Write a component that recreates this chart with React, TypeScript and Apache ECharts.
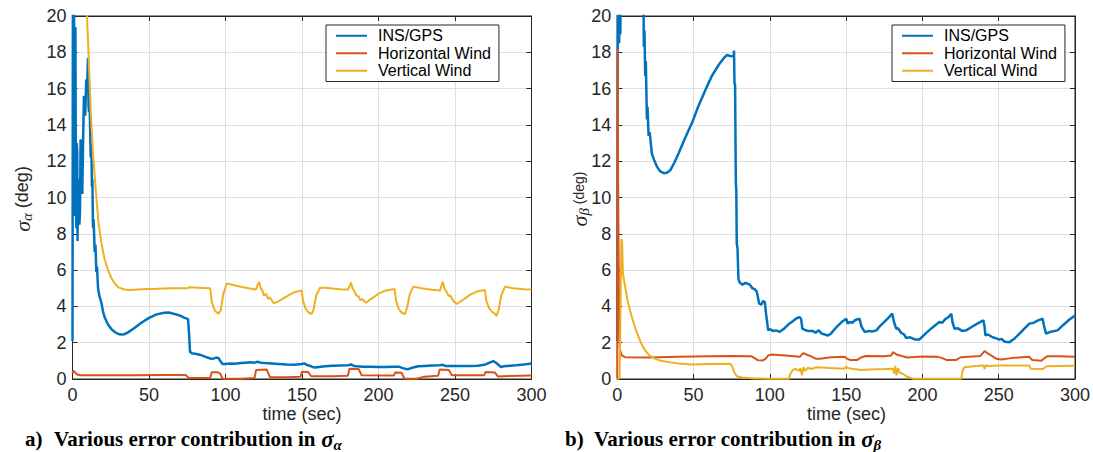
import React, { useEffect, useRef } from "react";
import * as echarts from "echarts";

const seriesNames = ["INS/GPS", "Horizontal Wind", "Vertical Wind"];
const seriesColors = ["#0072BD", "#D95319", "#EDB120"];

// time (sec), sigma_alpha (deg)
const insGpsAlpha = [
  [0, 2.1], [0.3, 24], [0.8, 14], [1.0, 20.5], [1.4, 9], [1.9, 19.4], [2.2, 11], [2.5, 8.3], [2.8, 13], [3.1, 12.5],
  [3.3, 7.6], [3.6, 11], [4.2, 10.8], [4.5, 8.5], [4.9, 9.3], [5.3, 13.2], [5.8, 12.5], [6.1, 10.5], [6.4, 10.2],
  [7.0, 13.5], [7.5, 15.6], [8.3, 14.5], [9.0, 16.5], [9.5, 15.8], [10.1, 17.7], [10.5, 15], [10.8, 14.7], [11.0, 16],
  [11.2, 15.2], [11.9, 12.2], [12.3, 13], [12.7, 10.6], [13.0, 11], [13.4, 8.3], [13.8, 8.8], [14.5, 7.0], [15.0, 7.4],
  [15.6, 5.9], [16.0, 6.2], [16.7, 5.0], [17.5, 4.6], [18.9, 4.2], [20, 3.7], [21, 3.4], [23.2, 3.0], [25.4, 2.75],
  [27.6, 2.59], [30, 2.48], [32, 2.45], [34, 2.47], [36.3, 2.57], [40, 2.78], [45, 3.1], [50, 3.37], [55, 3.56],
  [60, 3.65], [63, 3.66], [66, 3.6], [70, 3.5], [73, 3.38], [75.5, 3.3], [76.2, 2.5], [76.8, 1.5], [78, 1.42],
  [81, 1.38], [84, 1.32], [87, 1.22], [90, 1.13], [92, 1.12], [94, 1.18], [95.5, 1.15], [96.5, 1.0], [98, 0.83],
  [100, 0.83], [103, 0.86], [106, 0.84], [110, 0.88], [113, 0.9], [116, 0.92], [119, 0.9], [121, 0.95], [123, 0.9],
  [126, 0.88], [130, 0.86], [135, 0.82], [140, 0.8], [145, 0.79], [150, 0.82], [151.5, 0.86], [153, 0.78], [156, 0.7],
  [158, 0.63], [160, 0.65], [165, 0.7], [170, 0.73], [175, 0.75], [180, 0.76], [182, 0.8], [184, 0.72], [190, 0.68],
  [195, 0.67], [200, 0.66], [205, 0.66], [210, 0.68], [213, 0.68], [216, 0.6], [219, 0.53], [222, 0.62], [226, 0.7],
  [230, 0.72], [235, 0.74], [240, 0.76], [242, 0.78], [244, 0.71], [250, 0.71], [255, 0.71], [260, 0.72], [265, 0.73],
  [270, 0.8], [273, 0.92], [275, 0.99], [277, 0.88], [280, 0.66], [282, 0.7], [286, 0.73], [290, 0.76], [295, 0.8],
  [300, 0.86],
];
const horizWindAlpha = [
  [0, 0.3], [0.5, 0.46], [1.5, 0.38], [3, 0.25], [5, 0.21], [20, 0.21], [40, 0.21], [60, 0.22], [74, 0.22],
  [76, 0.05], [90, 0.05], [91, 0.37], [95, 0.37], [96.5, 0.3], [98, 0.02], [110, 0.02], [119, 0.05], [120, 0.5],
  [127, 0.52], [129, 0.1], [140, 0.1], [149, 0.12], [150, 0.4], [154, 0.38], [156, 0.15], [170, 0.15], [180, 0.18],
  [181, 0.57], [187, 0.55], [189, 0.2], [210, 0.19], [211, 0.36], [215, 0.35], [217, 0.01], [225, 0.01], [230, 0.13],
  [239, 0.18], [240, 0.53], [246, 0.5], [248, 0.2], [269, 0.2], [270, 0.38], [276, 0.36], [278, 0.14], [285, 0.17],
  [300, 0.19],
];
const vertWindAlpha = [
  [0, 60], [5, 35], [9.5, 20], [11.9, 14.8], [13.5, 12.3], [15.6, 10.0], [17, 8.6], [18.9, 7.47], [21, 6.6],
  [23.2, 6.0], [25.5, 5.55], [27.6, 5.26], [30, 5.05], [34, 4.93], [38, 4.9], [45, 4.95], [55, 4.97], [65, 5.0],
  [75, 5.0], [76, 5.05], [85, 5.02], [90, 5.0], [91, 4.24], [93, 3.78], [95.3, 3.6], [96.9, 3.78], [98.6, 4.7],
  [100.8, 5.26], [105, 5.18], [110, 5.08], [115, 5.0], [120, 4.93], [121, 5.2], [122, 5.35], [123, 5.0], [124, 4.9],
  [125, 4.6], [126.5, 4.7], [128, 4.4], [129, 4.5], [131.5, 4.17], [134, 4.25], [140, 4.55], [145, 4.78],
  [149.8, 4.88], [150.7, 4.3], [152.5, 3.85], [154.5, 3.65], [156.3, 3.58], [157.5, 3.8], [159.3, 4.6], [161.8, 5.03],
  [165, 5.03], [170, 4.98], [175, 4.95], [180.3, 4.93], [181, 5.1], [182, 5.31], [183, 5.0], [184.5, 4.8],
  [185.5, 4.6], [187, 4.55], [188, 4.35], [189.5, 4.4], [191.8, 4.2], [195, 4.4], [200, 4.7], [205, 4.88],
  [210.5, 4.96], [211.5, 4.3], [213.3, 3.85], [215.3, 3.65], [217.3, 3.58], [218.6, 3.9], [220.5, 4.7], [222.8, 5.09],
  [228, 5.0], [235, 4.92], [240.2, 4.87], [241, 5.1], [242, 5.36], [243, 5.0], [244.5, 4.8], [246, 4.55],
  [247, 4.6], [249, 4.3], [251.1, 4.13], [255, 4.35], [260, 4.65], [265, 4.84], [269.6, 4.9], [270.5, 4.3],
  [272.3, 3.9], [274.3, 3.7], [275.8, 3.62], [277.2, 3.47], [278.5, 3.8], [280.2, 4.6], [282.7, 5.09], [288, 5.0],
  [295, 4.95], [300, 4.93],
];

// time (sec), sigma_beta (deg)
const insGpsBeta = [
  [0, 2.1], [0.3, 21], [0.6, 19], [0.9, 22], [1.2, 18.5], [1.6, 21], [2.0, 19], [2.3, 24], [10, 40], [16, 26],
  [17.2, 20.5], [17.4, 18.3], [17.8, 19.2], [18.3, 16.7], [18.7, 17.5], [19.4, 14.3], [19.8, 15], [20.5, 13.4],
  [21.2, 13.6], [22.7, 12.4], [24, 12.1], [26, 11.7], [28, 11.45], [30.4, 11.34], [32.5, 11.36], [34.7, 11.5],
  [37, 11.85], [40.2, 12.44], [44, 13.2], [48.9, 14.1], [53, 15.0], [57.6, 15.9], [62, 16.7], [66.4, 17.3],
  [70, 17.7], [72, 17.85], [74, 17.8], [76.2, 17.78], [76.5, 18.1], [76.8, 16.3], [77.2, 16.2], [77.7, 10.8],
  [78.0, 10.4], [78.3, 7.47], [78.8, 7.2], [79.4, 5.5], [80.3, 5.3], [82, 5.2], [84, 5.3], [86.9, 5.2], [88.5, 5.0],
  [90.1, 4.95], [91.5, 4.8], [93, 4.15], [94.5, 4.1], [95.5, 4.3], [96.7, 4.24], [97.5, 3.6], [98.9, 2.68],
  [100, 2.75], [102, 2.65], [104, 2.68], [106.5, 2.6], [109, 2.75], [112, 3.0], [115.2, 3.2], [117.5, 3.35],
  [119.6, 3.41], [120.5, 3.3], [121.3, 2.77], [123, 2.7], [125, 2.65], [128.3, 2.64], [130, 2.55], [132, 2.68],
  [134, 2.5], [136, 2.45], [138.1, 2.4], [140, 2.5], [143, 2.8], [146, 3.05], [148, 3.2], [150.1, 3.32],
  [151, 3.05], [152.3, 3.14], [154, 3.1], [156, 3.25], [158.8, 3.32], [160, 2.9], [162.1, 2.59], [165, 2.65],
  [167, 2.62], [169.8, 2.68], [172, 2.9], [175, 3.15], [178, 3.4], [180.2, 3.6], [181.5, 3.1], [182.9, 2.77],
  [184, 2.8], [186, 2.55], [188, 2.45], [189.4, 2.26], [192, 2.3], [195, 2.18], [198.1, 2.18], [202, 2.5],
  [206, 2.8], [209, 3.0], [211.2, 3.14], [213, 3.1], [215, 3.3], [217, 3.4], [218.9, 3.6], [219.8, 3.1],
  [221, 2.77], [223, 2.8], [226, 2.65], [228.7, 2.68], [232, 2.85], [236, 3.05], [240, 3.23], [240.7, 2.9],
  [241.3, 2.4], [243, 2.45], [246, 2.3], [248, 2.25], [250.5, 2.17], [252, 2.2], [254, 2.05], [257, 2.03],
  [260, 2.2], [263, 2.45], [266, 2.7], [270.1, 3.05], [273, 3.1], [275, 3.2], [278.8, 3.32], [279.5, 3.0],
  [281, 2.5], [284, 2.6], [288.6, 2.68], [292, 2.95], [296, 3.25], [300, 3.5],
];
const horizWindBeta = [
  [0, 0], [0.15, 18.2], [0.6, 10], [1.2, 3], [1.8, 1.6], [3, 1.3], [5, 1.2], [20, 1.18], [40, 1.22], [60, 1.26],
  [75, 1.27], [88, 1.25], [90, 1.15], [92, 1.04], [95, 1.02], [97, 1.1], [99, 1.3], [101, 1.35], [110, 1.3],
  [119.6, 1.22], [121.8, 1.43], [124, 1.35], [127, 1.25], [130, 1.12], [133, 1.12], [140, 1.2], [149, 1.22],
  [151, 1.1], [153, 1.04], [157, 1.04], [160, 1.2], [163, 1.27], [175, 1.26], [179.5, 1.3], [180.7, 1.48],
  [183, 1.35], [187, 1.25], [190, 1.18], [200, 1.24], [210, 1.22], [213, 1.15], [216, 1.04], [222, 1.04],
  [225, 1.2], [238, 1.27], [240.7, 1.54], [243, 1.4], [246, 1.25], [249, 1.1], [252, 1.07], [258, 1.15],
  [265, 1.2], [270, 1.22], [272, 1.05], [278, 1.0], [280, 1.15], [282, 1.26], [290, 1.25], [300, 1.22],
];
const vertWindBeta = [
  [0, 0], [1.5, 0.05], [2.7, 7.7], [3.1, 7.65], [3.7, 5.8], [5.2, 5.07], [7, 4.2], [9.6, 3.4], [12, 2.75],
  [14, 2.31], [16, 1.9], [18.3, 1.57], [21, 1.3], [24.9, 1.11], [29, 1.0], [33.6, 0.93], [40, 0.86], [48.9, 0.8],
  [60, 0.82], [74, 0.84], [75.3, 0.7], [76.5, 0.4], [78.3, 0.15], [81.6, 0.08], [90, 0.03], [100, 0.02],
  [112.5, 0.02], [113.5, 0.3], [115.2, 0.51], [117, 0.55], [119, 0.45], [120, 0.6], [121, 0.2], [122, 0.65],
  [123, 0.45], [125, 0.62], [127, 0.55], [130.5, 0.65], [140, 0.6], [149, 0.57], [150, 0.7], [151, 0.6],
  [155, 0.55], [160, 0.5], [165, 0.53], [175, 0.55], [180.7, 0.57], [181.5, 0.3], [182.2, 0.72], [183, 0.2],
  [184, 0.6], [185, 0.35], [187.2, 0.29], [190, 0.12], [193.7, 0.02], [210, 0.02], [225.4, 0.02], [226.5, 0.5],
  [227.6, 0.65], [235, 0.72], [240, 0.74], [240.8, 0.55], [241.5, 0.76], [243, 0.72], [250, 0.74], [260, 0.75],
  [270, 0.75], [271, 0.56], [278.8, 0.55], [281.5, 0.7], [290, 0.72], [300, 0.73],
];

const xRange = { min: 0, max: 300, interval: 50 };
const yRange = { min: 0, max: 20, interval: 2 };
const xAxisTitle = "time (sec)";
const captionLabels = ["a)", "b)"];
const captionText = "Various error contribution in ";
const subscripts = ["α", "β"];

const SANS = "'Liberation Sans', Arial, Helvetica, sans-serif";
const SERIF = "'Liberation Serif', 'Times New Roman', serif";
const INK = "#262626";

const grids = [
  { left: 72.5, top: 16, width: 459, height: 363 },
  { left: 617.3, top: 16, width: 458.4, height: 363 },
];

function measure(text: string, font: string): number {
  const ctx = document.createElement("canvas").getContext("2d");
  if (!ctx) return text.length * 8;
  ctx.font = font;
  return ctx.measureText(text).width;
}

function textEl(text: string, x: number, y: number, fontStyle: string, fontWeight: string, fontSize: number, family: string, align = "left") {
  return {
    type: "text",
    x,
    y,
    style: {
      text,
      fontStyle,
      fontWeight,
      fontSize,
      fontFamily: family,
      fill: "#000",
      textAlign: align,
      textVerticalAlign: "middle",
      align,
      verticalAlign: "middle",
    },
  };
}

function buildGraphics() {
  const els: any[] = [];
  // captions
  const capY = 439;
  const capStarts = [25, 565];
  const mainStarts = [54, 594];
  const capSize = 21;
  for (let i = 0; i < 2; i++) {
    els.push(textEl(captionLabels[i], capStarts[i], capY, "normal", "bold", capSize, SERIF));
    els.push(textEl(captionText, mainStarts[i], capY, "normal", "bold", capSize, SERIF));
    const w = measure(captionText, `bold ${capSize}px ${SERIF}`);
    const sx = mainStarts[i] + w;
    els.push(textEl("σ", sx, capY, "italic", "bold", 23, SERIF));
    const sw = measure("σ", `italic bold 23px ${SERIF}`);
    els.push(textEl(subscripts[i], sx + sw, capY + 6, "italic", "bold", 15, SERIF));
  }
  // x axis titles
  for (let i = 0; i < 2; i++) {
    const g = grids[i];
    const el = textEl(xAxisTitle, g.left + g.width / 2, 414, "normal", "normal", 18, SANS, "center");
    el.style.fill = INK;
    els.push(el);
  }
  // y axis titles (rotated)
  const yCenters = [{ x: 22, y: 199 }, { x: 579, y: 199 }];
  const degSizes = [18, 14];
  for (let i = 0; i < 2; i++) {
    const parts = [
      { t: "σ", st: "italic", sz: 22, fam: SERIF, dy: 0 },
      { t: subscripts[i], st: "italic", sz: 15, fam: SERIF, dy: 5 },
      { t: " (deg)", st: "normal", sz: degSizes[i], fam: SANS, dy: 0 },
    ];
    const widths = parts.map((p) => measure(p.t, `${p.st} ${p.sz}px ${p.fam}`));
    const total = widths.reduce((a, b) => a + b, 0);
    let cx = -total / 2;
    const children: any[] = [];
    parts.forEach((p, k) => {
      const el = textEl(p.t, cx, p.dy, p.st, "normal", p.sz, p.fam);
      el.style.fill = INK;
      children.push(el);
      cx += widths[k];
    });
    els.push({ type: "group", x: yCenters[i].x, y: yCenters[i].y, rotation: Math.PI / 2, children });
  }
  return els;
}

function buildOption() {
  const xAxes: any[] = [];
  const yAxes: any[] = [];
  grids.forEach((_, gi) => {
    const base = {
      gridIndex: gi,
      type: "value",
      axisLine: { show: true, onZero: false, lineStyle: { color: INK, width: 1 } },
      axisTick: { show: true, inside: true, length: 5, lineStyle: { color: INK, width: 1 } },
    };
    xAxes.push({
      ...base,
      ...xRange,
      position: "bottom",
      axisLabel: { show: true, fontSize: 18, fontFamily: SANS, color: INK, margin: 7 },
      splitLine: { show: true, lineStyle: { color: "#dfdfdf", width: 1 } },
    });
    xAxes.push({ ...base, ...xRange, position: "top", axisLabel: { show: false }, splitLine: { show: false } });
    yAxes.push({
      ...base,
      ...yRange,
      position: "left",
      axisLabel: { show: true, fontSize: 18, fontFamily: SANS, color: INK, margin: 6 },
      splitLine: { show: true, lineStyle: { color: "#dfdfdf", width: 1 } },
    });
    yAxes.push({ ...base, ...yRange, position: "right", axisLabel: { show: false }, splitLine: { show: false } });
  });

  const dataSets = [
    [insGpsAlpha, horizWindAlpha, vertWindAlpha],
    [insGpsBeta, horizWindBeta, vertWindBeta],
  ];
  const series: any[] = [];
  dataSets.forEach((set, gi) => {
    set.forEach((d, si) => {
      series.push({
        type: "line",
        name: seriesNames[si],
        xAxisIndex: gi * 2,
        yAxisIndex: gi * 2,
        data: d,
        showSymbol: false,
        symbol: "none",
        clip: true,
        color: seriesColors[si],
        lineStyle: { color: seriesColors[si], width: si === 0 ? 2.5 : 2 },
        emphasis: { disabled: true },
      });
    });
  });

  const legendBase = {
    data: seriesNames,
    orient: "vertical",
    top: 25,
    icon: "rect",
    itemWidth: 31,
    itemHeight: 2,
    itemGap: 0,
    padding: [2, 8, 2, 10],
    borderColor: INK,
    borderWidth: 1,
    backgroundColor: "#fff",
    selectedMode: false,
    textStyle: { fontSize: 16, fontFamily: SANS, color: "#000", lineHeight: 17.5, padding: [0, 0, 0, 6] },
  };

  return {
    animation: false,
    backgroundColor: "#fff",
    grid: grids.map((g) => ({ ...g, show: true, borderColor: INK, borderWidth: 1, backgroundColor: "transparent", containLabel: false })),
    xAxis: xAxes,
    yAxis: yAxes,
    legend: [
      { ...legendBase, left: 326 },
      { ...legendBase, left: 892 },
    ],
    series,
    graphic: buildGraphics(),
  };
}

export default function App() {
  const ref = useRef<HTMLDivElement>(null);
  useEffect(() => {
    if (!ref.current) return;
    const chart = echarts.init(ref.current, undefined, { renderer: "svg", width: 1093, height: 452 });
    chart.setOption(buildOption() as any);
    return () => chart.dispose();
  }, []);
  return (
    <div
      ref={ref}
      style={{ position: "absolute", left: 0, top: 0, width: 1093, height: 452, background: "#fff" }}
    />
  );
}
